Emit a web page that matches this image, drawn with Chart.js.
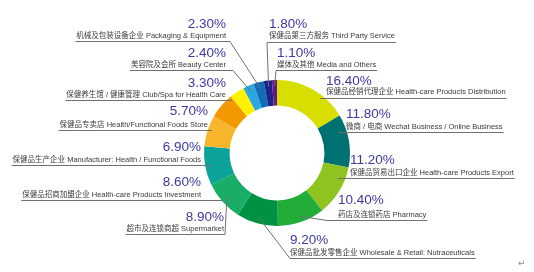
<!DOCTYPE html>
<html>
<head>
<meta charset="utf-8">
<script src="https://cdn.jsdelivr.net/npm/chart.js@4/dist/chart.umd.min.js"></script>
<style>
  html, body { margin: 0; padding: 0; background: #fff; }
  canvas { display: block; }
</style>
</head>
<body>
<canvas id="chart" width="534" height="272"></canvas>
<script>
// categories, clockwise from 12 o'clock
const categoriesCn = ["保健品经销代理企业", "微商 / 电商", "保健品贸易出口企业", "药店及连锁药店",
    "保健品批发零售企业", "超市及连锁商超", "保健品招商加盟企业", "保健品生产企业",
    "保健品专卖店", "保健养生馆 / 健康管理", "美容院及会所", "机械及包装设备企业",
    "保健品第三方服务", "媒体及其他"];
const categoriesEn = ["Health-care Products Distribution", "Wechat Business / Online Business",
    "Health-care Products Export", "Pharmacy", "Wholesale & Retail: Nutraceuticals",
    "Supermarket", "Health-care Products Investment", "Manufacturer: Health / Functional Foods",
    "Health/Functional Foods Store", "Club/Spa for Health Care", "Beauty Center",
    "Packaging & Equipment", "Third Party Service", "Media and Others"];
const shares = [16.4, 11.8, 11.2, 10.4, 9.2, 8.9, 8.6, 6.9, 5.7, 3.3, 2.4, 2.3, 1.8, 1.1];
const sliceColors = ["#d8df00", "#007171", "#8fc31f", "#22ac38", "#009243", "#19ad68",
    "#0aa29a", "#f8b62d", "#f39800", "#fff100", "#2ca6e0", "#106db6", "#1d2188", "#611a87"];

// where each callout sits (L = text right-aligned at x, R = text left-aligned at x)
const calloutLayout = [
    { side: "R", x: 326, pctY: 85,  textY: 94,  lineY: 98,  knee: 320, leader: false },
    { side: "R", x: 346, pctY: 118, textY: 129, lineY: 132, knee: 338, leader: false },
    { side: "R", x: 350, pctY: 164, textY: 175, lineY: 178, knee: 338, leader: false },
    { side: "R", x: 338, pctY: 204, textY: 217, lineY: 220, knee: 327, leader: true },
    { side: "R", x: 290, pctY: 244, textY: 255, lineY: 258, knee: 290, leader: true },
    { side: "L", x: 224, pctY: 221, textY: 231, lineY: 234, knee: 225, leader: true },
    { side: "L", x: 201, pctY: 186, textY: 197, lineY: 200, knee: 222, leader: false },
    { side: "L", x: 201, pctY: 151, textY: 162, lineY: 165, knee: 212, leader: false },
    { side: "L", x: 208, pctY: 115, textY: 127, lineY: 130, knee: 212, leader: false },
    { side: "L", x: 226, pctY: 87,  textY: 97,  lineY: 100, knee: 232, leader: false },
    { side: "L", x: 226, pctY: 57,  textY: 67,  lineY: 70,  knee: 233, leader: true },
    { side: "L", x: 226, pctY: 28,  textY: 38,  lineY: 41,  knee: 230, leader: true },
    { side: "R", x: 269, pctY: 28,  textY: 38,  lineY: 42,  knee: 267, leader: true },
    { side: "R", x: 277, pctY: 57,  textY: 67,  lineY: 70,  knee: 276, leader: true }
];

const calloutPlugin = {
    id: "callouts",
    afterDraw(chart) {
        const { ctx } = chart;
        const arcs = chart.getDatasetMeta(0).data;
        ctx.save();
        calloutLayout.forEach((c, i) => {
            const pct = shares[i].toFixed(2) + "%";
            const label = categoriesCn[i] + " " + categoriesEn[i];
            ctx.textBaseline = "alphabetic";
            ctx.textAlign = c.side === "L" ? "right" : "left";

            ctx.font = "13.5px 'Liberation Sans', Arial, sans-serif";
            ctx.fillStyle = "#3c3a9e";
            ctx.fillText(pct, c.x, c.pctY);

            ctx.font = "7.5px 'Liberation Sans', 'Noto Sans CJK SC', sans-serif";
            ctx.fillStyle = "#3a3a3a";
            ctx.fillText(label, c.x, c.textY);
            const w = ctx.measureText(label).width;

            ctx.strokeStyle = "#707070";
            ctx.lineWidth = 1;
            ctx.beginPath();
            if (c.side === "L") {
                ctx.moveTo(c.x - w - 1, c.lineY + 0.5);
                ctx.lineTo(c.knee, c.lineY + 0.5);
            } else {
                ctx.moveTo(c.x + w + 1, c.lineY + 0.5);
                ctx.lineTo(c.knee, c.lineY + 0.5);
            }
            if (c.leader) {
                const a = arcs[i].getProps(["x", "y", "startAngle", "endAngle", "outerRadius"], true);
                const mid = (a.startAngle + a.endAngle) / 2;
                const r = a.outerRadius - 6;
                ctx.lineTo(a.x + r * Math.cos(mid), a.y + r * Math.sin(mid));
            }
            ctx.stroke();
        });
        // the stray return mark in the corner
        ctx.font = "9px 'DejaVu Sans', sans-serif";
        ctx.fillStyle = "#888";
        ctx.textAlign = "left";
        ctx.fillText("↵", 518, 266);
        ctx.restore();
    }
};

new Chart(document.getElementById("chart").getContext("2d"), {
    type: "doughnut",
    data: {
        labels: categoriesEn,
        datasets: [{
            data: shares,
            backgroundColor: sliceColors,
            borderWidth: 0
        }]
    },
    options: {
        responsive: false,
        animation: false,
        cutout: "65%",
        layout: { padding: { left: 204, right: 184, top: 80, bottom: 46 } },
        plugins: {
            legend: { display: false },
            tooltip: { enabled: false }
        }
    },
    plugins: [calloutPlugin]
});
</script>
</body>
</html>
